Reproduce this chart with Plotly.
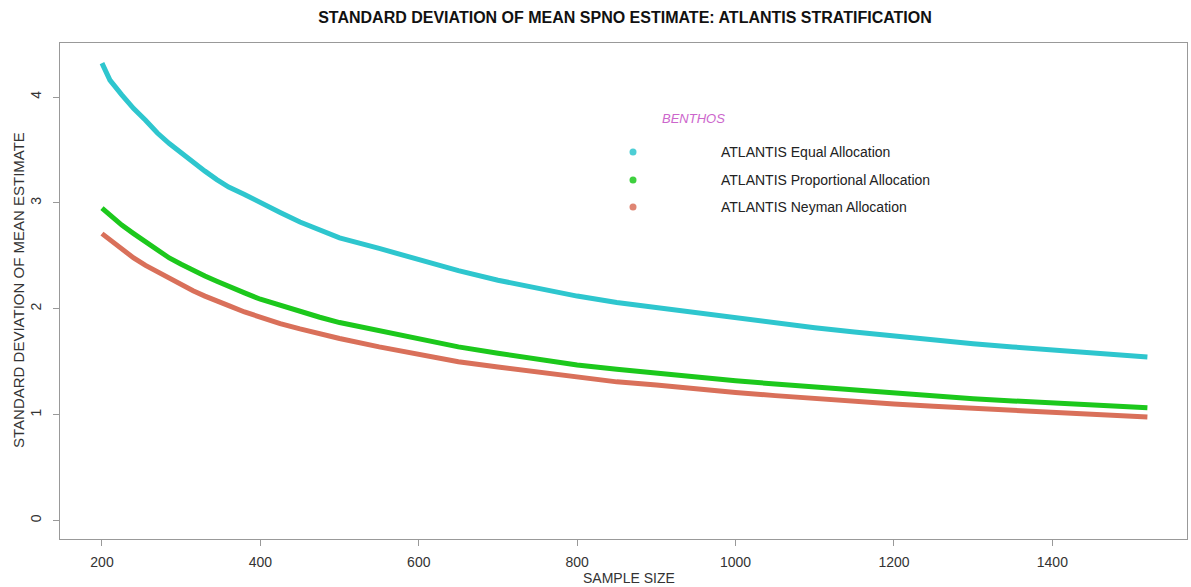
import plotly.graph_objects as go

# ---- data ----
sample_size = [200, 210, 225, 240, 255, 270, 285, 300, 315, 330, 345, 360, 380, 400,
               425, 450, 475, 500, 550, 600, 650, 700, 750, 800, 850, 900, 950, 1000,
               1050, 1100, 1150, 1200, 1250, 1300, 1350, 1400, 1450, 1500, 1520]

equal_alloc = [4.32, 4.16, 4.02, 3.89, 3.78, 3.66, 3.56, 3.47, 3.38, 3.30, 3.22, 3.15, 3.08, 3.01,
               2.91, 2.82, 2.74, 2.67, 2.57, 2.46, 2.36, 2.27, 2.19, 2.12, 2.06, 2.01, 1.96, 1.91,
               1.87, 1.82, 1.78, 1.74, 1.71, 1.67, 1.64, 1.61, 1.58, 1.555, 1.545]

prop_alloc = [2.95, 2.88, 2.79, 2.71, 2.63, 2.55, 2.48, 2.42, 2.36, 2.31, 2.26, 2.21, 2.15, 2.09,
              2.03, 1.97, 1.92, 1.87, 1.79, 1.71, 1.64, 1.58, 1.52, 1.47, 1.43, 1.39, 1.36, 1.32,
              1.29, 1.26, 1.23, 1.20, 1.18, 1.15, 1.13, 1.11, 1.09, 1.07, 1.065]

neyman_alloc = [2.71, 2.65, 2.56, 2.48, 2.41, 2.35, 2.28, 2.22, 2.17, 2.12, 2.07, 2.03, 1.97, 1.92,
                1.86, 1.81, 1.76, 1.72, 1.64, 1.57, 1.50, 1.45, 1.40, 1.35, 1.31, 1.28, 1.24, 1.21,
                1.18, 1.15, 1.13, 1.10, 1.08, 1.06, 1.04, 1.02, 1.00, 0.98, 0.977]

series_names = ["ATLANTIS Equal Allocation", "ATLANTIS Proportional Allocation",
                "ATLANTIS Neyman Allocation"]
series_colors = ["#2EC6CE", "#1CC81C", "#D9705A"]
legend_title = "BENTHOS"

x_ticks = [200, 400, 600, 800, 1000, 1200, 1400]
y_ticks = [0, 1, 2, 3, 4]

FONT = "Liberation Sans, Arial, Helvetica, sans-serif"

fig = go.Figure()
for vals, name, col in zip([equal_alloc, prop_alloc, neyman_alloc], series_names, series_colors):
    fig.add_trace(go.Scatter(x=sample_size, y=vals, mode="lines", name=name,
                             line=dict(color=col, width=5), showlegend=False))

# ---- layout geometry (pixels) ----
W, H = 1191, 587
L, R, T, B = 60, 1187, 43, 539
pw, ph = R - L, B - T


def px_x(p):
    return (p - L) / pw


def px_y(p):
    return (B - p) / ph


annotations = []
shapes = []

# custom legend (R style, no box)
annotations.append(dict(x=px_x(693), y=px_y(119), xref="paper", yref="paper",
                        text="<i>" + legend_title + "</i>",
                        showarrow=False, font=dict(family=FONT, size=13, color="#CC66CC"),
                        xanchor="center", yanchor="middle"))
leg_rows = [152, 180, 207]
for yy, name, col in zip(leg_rows, series_names, series_colors):
    shapes.append(dict(type="circle", xref="paper", yref="paper",
                       x0=px_x(629.5), x1=px_x(636.5), y0=px_y(yy + 3.5), y1=px_y(yy - 3.5),
                       fillcolor=col, line=dict(width=0), opacity=0.85))
    annotations.append(dict(x=px_x(719), y=px_y(yy), xref="paper", yref="paper", text=name,
                            showarrow=False, font=dict(family=FONT, size=14, color="#222222"),
                            xanchor="left", yanchor="middle"))

# axis titles
annotations.append(dict(x=px_x(629), y=px_y(578), xref="paper", yref="paper", text="SAMPLE SIZE",
                        showarrow=False, font=dict(family=FONT, size=14, color="#333333"),
                        xanchor="center", yanchor="middle"))
annotations.append(dict(x=px_x(18), y=px_y(290), xref="paper", yref="paper",
                        text="STANDARD DEVIATION OF MEAN ESTIMATE", textangle=-90,
                        showarrow=False, font=dict(family=FONT, size=15, color="#333333"),
                        xanchor="center", yanchor="middle"))

fig.update_layout(
    width=W, height=H,
    margin=dict(l=L, r=W - R, t=T, b=H - B),
    paper_bgcolor="white", plot_bgcolor="white",
    title=dict(text="<b>STANDARD DEVIATION OF MEAN SPNO ESTIMATE: ATLANTIS STRATIFICATION</b>",
               x=625 / W, xanchor="center", y=1 - 17 / H, yanchor="middle",
               font=dict(family=FONT, size=16, color="#111111")),
    annotations=annotations,
    shapes=shapes,
    showlegend=False,
)

fig.update_xaxes(range=[147, 1570], tickvals=x_ticks, ticktext=[str(v) for v in x_ticks],
                 showgrid=False, zeroline=False, showline=True, mirror=True,
                 linecolor="#999999", linewidth=1, ticks="outside", ticklen=6,
                 tickcolor="#999999", ticklabelstandoff=4,
                 tickfont=dict(family=FONT, size=14, color="#333333"))
fig.update_yaxes(range=[-0.174, 4.51], tickvals=y_ticks, ticktext=[str(v) for v in y_ticks],
                 showgrid=False, zeroline=False, showline=True, mirror=True,
                 linecolor="#999999", linewidth=1, ticks="outside", ticklen=6,
                 tickcolor="#999999", tickangle=-90, ticklabelstandoff=6,
                 tickfont=dict(family=FONT, size=14, color="#333333"))

fig.write_html("out.html", config={"displayModeBar": False},
               post_script="document.body.style.margin='0';document.body.style.padding='0';")
